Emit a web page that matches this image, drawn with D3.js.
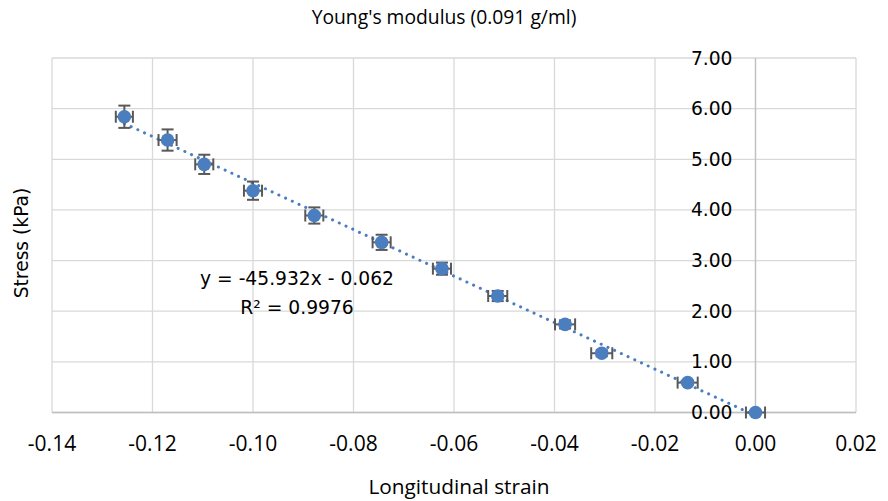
<!DOCTYPE html>
<html>
<head>
<meta charset="utf-8">
<script src="https://cdn.jsdelivr.net/npm/d3@7"></script>
<style>
  body { margin: 0; background: #fff; }
  svg { display: block; }
</style>
</head>
<body>
<svg id="chart"></svg>
<script>
const width = 888;
const height = 501;
const margin = { top: 58, right: 32, bottom: 89, left: 52 };

// data
const strain = [-0.1256, -0.1170, -0.1097, -0.1000, -0.0878, -0.0744, -0.0624, -0.0513, -0.0379, -0.0306, -0.0135, 0.0000];
const stress = [5.84, 5.38, 4.90, 4.38, 3.89, 3.36, 2.84, 2.30, 1.74, 1.17, 0.59, 0.00];
const strainErr = [0.0017, 0.0018, 0.0018, 0.0018, 0.0018, 0.0018, 0.0018, 0.0019, 0.0020, 0.0021, 0.0020, 0.0019];
const stressErr = [0.22, 0.21, 0.19, 0.18, 0.16, 0.15, 0.12, 0.10, 0.08, 0.06, 0.04, 0.02];
const xTicks = [-0.14, -0.12, -0.10, -0.08, -0.06, -0.04, -0.02, 0.00, 0.02];
const yTicks = [0, 1, 2, 3, 4, 5, 6, 7];
const fitSlope = -45.932;
const fitIntercept = -0.062;
const fitLabel = ["y = -45.932x - 0.062", "R² = 0.9976"];

const blue = "#4a7ebf";
const narrow = "'Open Sans', sans-serif";
const wide = "'DejaVu Sans', sans-serif";

const svg = d3.select("#chart")
    .attr("width", width)
    .attr("height", height);

const x = d3.scaleLinear()
    .domain([-0.14, 0.02])
    .range([margin.left, width - margin.right]);

const y = d3.scaleLinear()
    .domain([0, 7])
    .range([height - margin.bottom + 0.5, margin.top]);

// grid
svg.append("g")
    .selectAll("line")
    .data(xTicks)
    .join("line")
    .attr("x1", d => x(d)).attr("x2", d => x(d))
    .attr("y1", y(0)).attr("y2", y(7))
    .attr("stroke", "#d9d9d9")
    .attr("stroke-width", 1.3);

svg.append("g")
    .selectAll("line")
    .data(yTicks)
    .join("line")
    .attr("x1", x(-0.14)).attr("x2", x(0.02))
    .attr("y1", d => y(d)).attr("y2", d => y(d))
    .attr("stroke", "#d9d9d9")
    .attr("stroke-width", 1.3);

// axis lines (they cross at 0,0)
svg.append("line")
    .attr("x1", x(-0.14)).attr("x2", x(0.02))
    .attr("y1", y(0)).attr("y2", y(0))
    .attr("stroke", "#bfbfbf")
    .attr("stroke-width", 1.3);

svg.append("line")
    .attr("x1", x(0)).attr("x2", x(0))
    .attr("y1", y(0)).attr("y2", y(7))
    .attr("stroke", "#bfbfbf")
    .attr("stroke-width", 1.3);

// tick labels
svg.append("g")
    .selectAll("text")
    .data(xTicks)
    .join("text")
    .attr("x", d => x(d))
    .attr("y", 445)
    .attr("text-anchor", "middle")
    .attr("dominant-baseline", "middle")
    .style("font-family", narrow)
    .style("font-size", "21px")
    .text(d => d.toFixed(2));

svg.append("g")
    .selectAll("text")
    .data(yTicks)
    .join("text")
    .attr("x", x(0) - 23)
    .attr("y", d => y(d))
    .attr("text-anchor", "end")
    .attr("dominant-baseline", "central")
    .style("font-family", wide)
    .style("font-size", "18.7px")
    .text(d => d.toFixed(2));

// titles
svg.append("text")
    .attr("x", 444)
    .attr("y", 19)
    .attr("text-anchor", "middle")
    .attr("dominant-baseline", "middle")
    .style("font-family", narrow)
    .style("font-size", "19.3px")
    .text("Young's modulus (0.091 g/ml)");

svg.append("text")
    .attr("x", 459)
    .attr("y", 488)
    .attr("text-anchor", "middle")
    .attr("dominant-baseline", "middle")
    .style("font-family", narrow)
    .style("font-size", "20.8px")
    .text("Longitudinal strain");

svg.append("text")
    .attr("transform", "translate(22, 243) rotate(-90)")
    .attr("text-anchor", "middle")
    .attr("dominant-baseline", "middle")
    .style("font-family", wide)
    .style("font-size", "18.7px")
    .text("Stress (kPa)");

// trendline
const [xMin, xMax] = d3.extent(strain);
svg.append("line")
    .attr("x1", x(xMin)).attr("y1", y(fitSlope * xMin + fitIntercept))
    .attr("x2", x(xMax)).attr("y2", y(fitSlope * xMax + fitIntercept))
    .attr("stroke", blue)
    .attr("stroke-width", 3)
    .attr("stroke-linecap", "round")
    .attr("stroke-dasharray", "0.1 7.3");

// error bars
const pts = strain.map((s, i) => ({ s, p: stress[i], ex: strainErr[i], ey: stressErr[i] }));
const cap = 6;
const err = svg.append("g")
    .attr("stroke", "#595959")
    .attr("stroke-width", 2);

pts.forEach(d => {
    const cx = x(d.s), cy = y(d.p);
    // vertical
    err.append("line")
        .attr("x1", cx).attr("x2", cx)
        .attr("y1", y(d.p - d.ey)).attr("y2", y(d.p + d.ey));
    err.append("line")
        .attr("x1", cx - cap).attr("x2", cx + cap)
        .attr("y1", y(d.p + d.ey)).attr("y2", y(d.p + d.ey));
    err.append("line")
        .attr("x1", cx - cap).attr("x2", cx + cap)
        .attr("y1", y(d.p - d.ey)).attr("y2", y(d.p - d.ey));
    // horizontal
    err.append("line")
        .attr("x1", x(d.s - d.ex)).attr("x2", x(d.s + d.ex))
        .attr("y1", cy).attr("y2", cy);
    err.append("line")
        .attr("x1", x(d.s - d.ex)).attr("x2", x(d.s - d.ex))
        .attr("y1", cy - cap).attr("y2", cy + cap);
    err.append("line")
        .attr("x1", x(d.s + d.ex)).attr("x2", x(d.s + d.ex))
        .attr("y1", cy - cap).attr("y2", cy + cap);
});

// markers
svg.append("g")
    .selectAll("circle")
    .data(pts)
    .join("circle")
    .attr("cx", d => x(d.s))
    .attr("cy", d => y(d.p))
    .attr("r", 6.8)
    .attr("fill", blue);

// equation label
svg.append("g")
    .selectAll("text")
    .data(fitLabel)
    .join("text")
    .attr("x", 297)
    .attr("y", (d, i) => 279 + i * 29)
    .attr("text-anchor", "middle")
    .attr("dominant-baseline", "middle")
    .style("font-family", wide)
    .style("font-size", "18.7px")
    .text(d => d);
</script>
</body>
</html>
